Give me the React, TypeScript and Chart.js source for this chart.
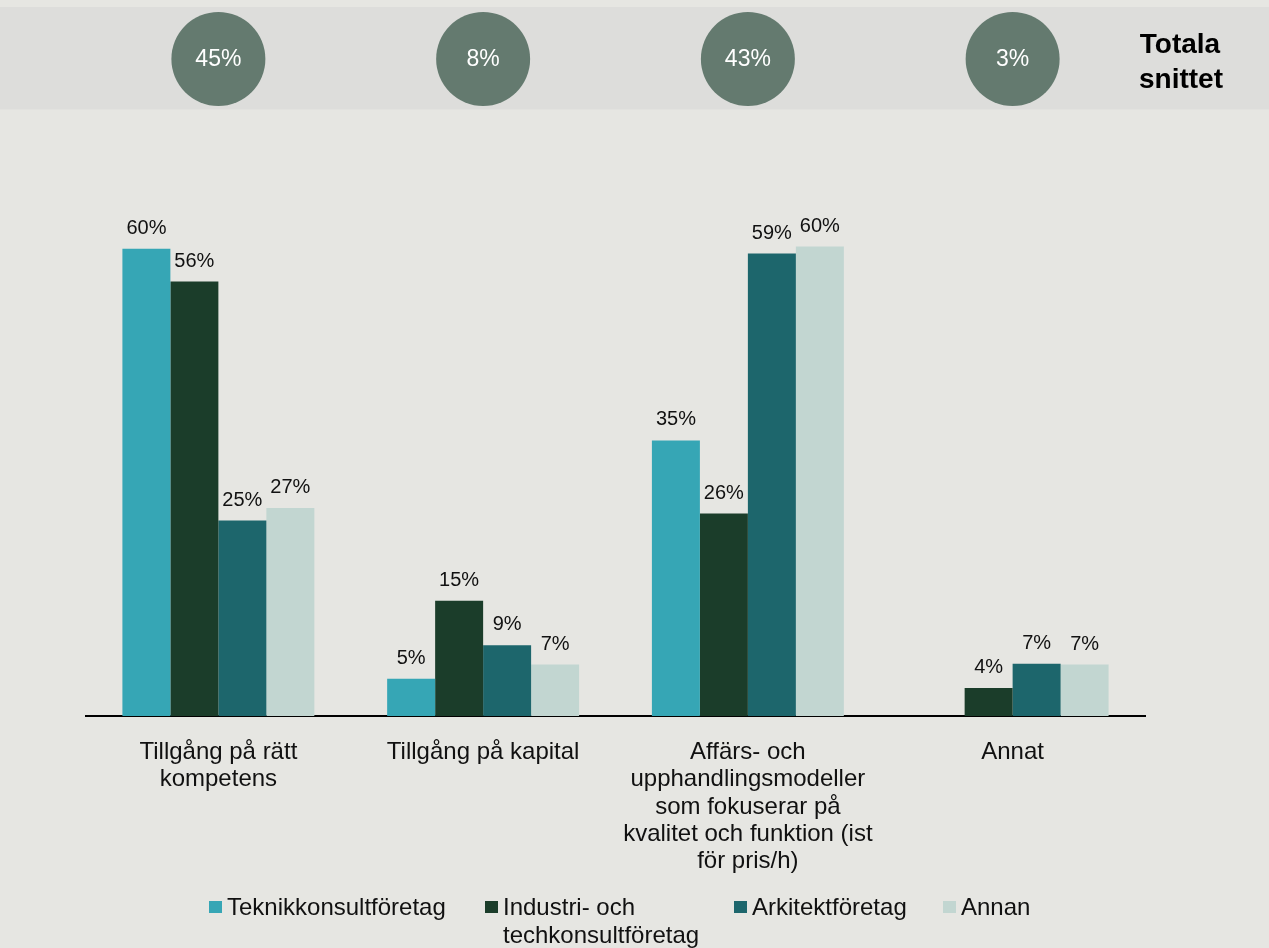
import React, { useEffect, useRef } from "react";
import { Chart, registerables } from "chart.js";

Chart.register(...registerables);

// ---------- data ----------
const categories: string[][] = [
  ["Tillgång på rätt", "kompetens"],
  ["Tillgång på kapital"],
  ["Affärs- och", "upphandlingsmodeller", "som fokuserar på", "kvalitet och funktion (ist", "för pris/h)"],
  ["Annat"],
];
const seriesNames = ["Teknikkonsultföretag", "Industri- och techkonsultföretag", "Arkitektföretag", "Annan"];
const teknikValues = [60.0, 4.8, 35.4, 0];
const industriValues = [55.8, 14.8, 26.0, 3.6];
const arkitektValues = [25.1, 9.1, 59.4, 6.7];
const annanValues = [26.7, 6.6, 60.3, 6.6];
const totalAverage = [45, 8, 43, 3];
const totalTitle = ["Totala", "snittet"];

// ---------- styles / layout ----------
const seriesColors = ["#36a6b5", "#1b3d2a", "#1d666c", "#c2d6d1"];
const BG = "#e6e6e2";
const BAND = "#dddddb";
const CIRCLE = "#647a6f";
const FONT = '"Liberation Sans", Arial, sans-serif';
const legendBoxX = [209, 485, 734, 943];

function wrap(ctx: CanvasRenderingContext2D, text: string, maxW: number): string[] {
  const words = text.split(" ");
  const lines: string[] = [];
  let cur = "";
  for (const w of words) {
    const t = cur ? cur + " " + w : w;
    if (cur && ctx.measureText(t).width > maxW) {
      lines.push(cur);
      cur = w;
    } else cur = t;
  }
  if (cur) lines.push(cur);
  return lines;
}

const decorPlugin = {
  id: "decor",
  beforeDraw(chart: any) {
    const ctx = chart.ctx as CanvasRenderingContext2D;
    const w = chart.width;
    ctx.save();
    ctx.fillStyle = BG;
    ctx.fillRect(0, 0, w, chart.height);
    // top band
    ctx.fillStyle = BAND;
    ctx.fillRect(0, 7, w, 102.5);
    // circles with total averages
    const xs = chart.scales.x;
    totalAverage.forEach((v, i) => {
      const cx = xs.getPixelForValue(i);
      const cy = 59;
      ctx.beginPath();
      ctx.arc(cx, cy, 47, 0, Math.PI * 2);
      ctx.fillStyle = CIRCLE;
      ctx.fill();
      ctx.fillStyle = "#ffffff";
      ctx.font = `23px ${FONT}`;
      ctx.textAlign = "center";
      ctx.textBaseline = "middle";
      ctx.fillText(v + "%", cx, cy + 1);
    });
    // title at right
    ctx.fillStyle = "#000";
    ctx.font = `bold 28px ${FONT}`;
    ctx.textAlign = "center";
    ctx.textBaseline = "alphabetic";
    ctx.fillText(totalTitle[0], 1180, 53);
    ctx.fillText(totalTitle[1], 1181, 88);
    ctx.restore();
  },
  afterDatasetsDraw(chart: any) {
    const ctx = chart.ctx as CanvasRenderingContext2D;
    ctx.save();
    ctx.font = `20px ${FONT}`;
    ctx.fillStyle = "#111";
    ctx.textAlign = "center";
    ctx.textBaseline = "alphabetic";
    chart.data.datasets.forEach((ds: any, di: number) => {
      const meta = chart.getDatasetMeta(di);
      meta.data.forEach((bar: any, i: number) => {
        const v = ds.data[i];
        if (!v) return;
        ctx.fillText(Math.round(v) + "%", bar.x, bar.y - 15);
      });
    });
    ctx.restore();
  },
  afterDraw(chart: any) {
    const ctx = chart.ctx as CanvasRenderingContext2D;
    ctx.save();
    ctx.font = `24px ${FONT}`;
    ctx.textAlign = "left";
    ctx.textBaseline = "alphabetic";
    chart.data.datasets.forEach((ds: any, di: number) => {
      const bx = legendBoxX[di];
      ctx.fillStyle = ds.backgroundColor;
      ctx.fillRect(bx, 901, 13, 12);
      ctx.fillStyle = "#111";
      const lines = wrap(ctx, ds.label, 240);
      lines.forEach((ln, li) => ctx.fillText(ln, bx + 18, 915 + li * 27.5));
    });
    ctx.restore();
  },
};

export default function App() {
  const ref = useRef<HTMLCanvasElement | null>(null);
  useEffect(() => {
    if (!ref.current) return;
    const seriesValues = [teknikValues, industriValues, arkitektValues, annanValues];
    const chart = new Chart(ref.current, {
      type: "bar",
      data: {
        labels: categories as any,
        datasets: seriesNames.map((name, i) => ({
          label: name,
          data: seriesValues[i],
          backgroundColor: seriesColors[i],
          borderWidth: 0,
          categoryPercentage: 0.725,
          barPercentage: 1.0,
        })),
      },
      options: {
        animation: false,
        responsive: true,
        maintainAspectRatio: false,
        layout: { padding: { left: 86, right: 124, top: 171, bottom: 72 } },
        plugins: { legend: { display: false }, tooltip: { enabled: false } },
        scales: {
          x: {
            grid: { display: false },
            border: { display: true, color: "#000", width: 2 },
            ticks: {
              color: "#111",
              font: { family: FONT, size: 24, lineHeight: 1.135 },
              padding: 15,
              maxRotation: 0,
              minRotation: 0,
              autoSkip: false,
            },
            afterFit: (scale: any) => {
              scale.height = 160;
            },
          },
          y: { display: false, min: 0, max: 70 },
        },
      },
      plugins: [decorPlugin],
    });
    return () => chart.destroy();
  }, []);
  return (
    <div style={{ position: "fixed", left: 0, top: 0, width: 1269, height: 948, background: BG }}>
      <canvas ref={ref} />
    </div>
  );
}
